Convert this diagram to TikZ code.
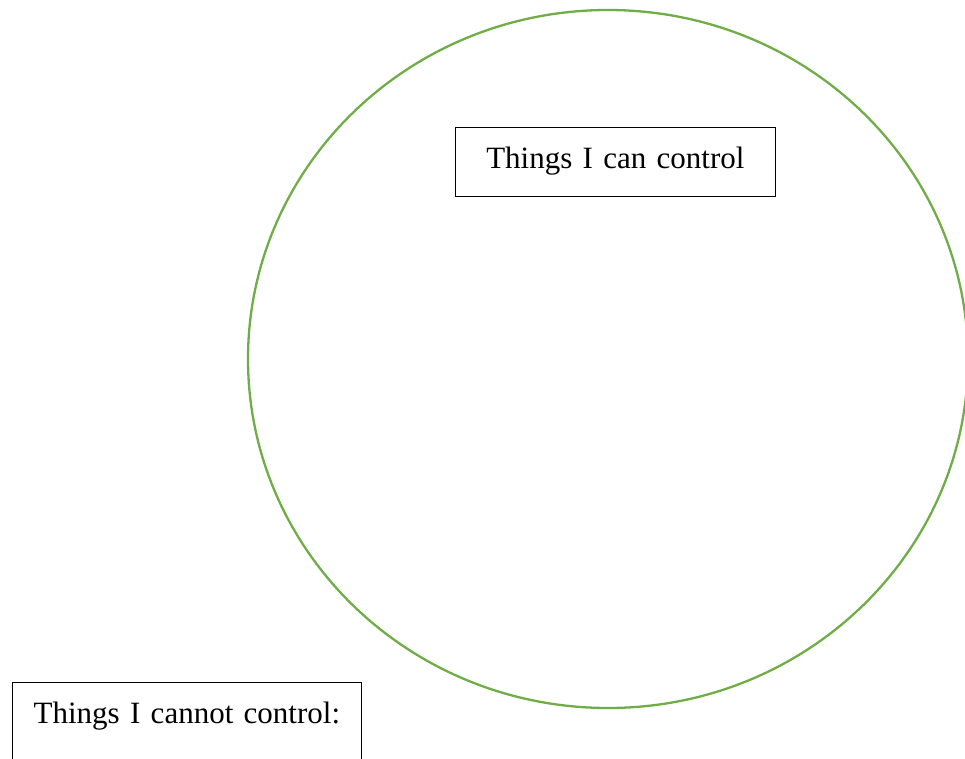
\documentclass[tikz,border=0pt]{standalone}
\usepackage{fontspec}
\setmainfont{Liberation Serif}
\definecolor{ringgreen}{HTML}{70AD47}
\begin{document}
\begin{tikzpicture}[x=1pt,y=-1pt,
  labelbox/.style={draw=black, line width=0.8pt, inner sep=0pt, align=center,
    font=\fontsize{31}{37}\selectfont, anchor=north west, text height=41pt}]
\useasboundingbox (0,0) rectangle (965,759);
\clip (0,0) rectangle (965,759);
\draw[ringgreen, line width=2.3pt] (608,359) ellipse [x radius=360, y radius=349];
\node (can) [labelbox, text width=320pt, text depth=28pt] at (455,127) {Things I can control};
\node (cannot) [labelbox, text width=349pt, text depth=70pt] at (12,682) {Things I cannot control:};
\end{tikzpicture}
\end{document}
